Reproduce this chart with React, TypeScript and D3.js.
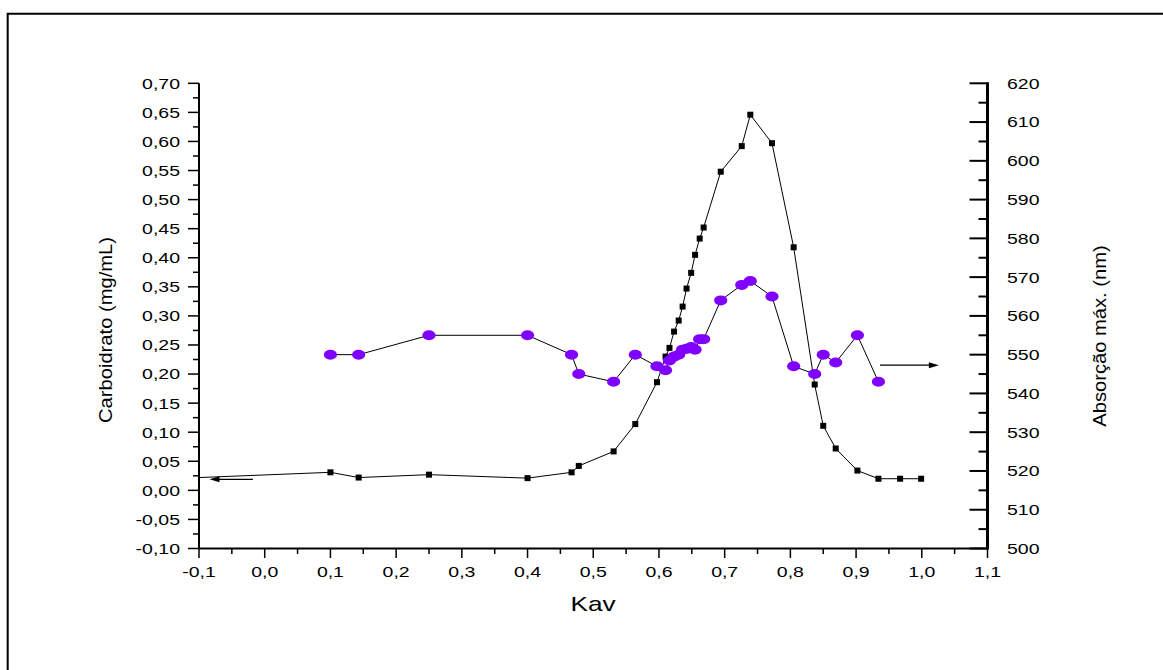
import React from "react";
import * as d3 from "d3";

// ---- data ----
const kavCarb = [0.10, 0.143, 0.25, 0.40, 0.467, 0.478, 0.531, 0.564, 0.597, 0.610, 0.616, 0.623, 0.630, 0.636, 0.642, 0.649, 0.655, 0.662, 0.668, 0.694, 0.726, 0.739, 0.772, 0.805, 0.837, 0.850, 0.869, 0.902, 0.934, 0.967, 0.999];
const carboidrato = [0.031, 0.022, 0.027, 0.021, 0.031, 0.042, 0.067, 0.114, 0.186, 0.230, 0.245, 0.273, 0.292, 0.316, 0.347, 0.374, 0.405, 0.433, 0.452, 0.548, 0.592, 0.646, 0.597, 0.418, 0.182, 0.111, 0.072, 0.034, 0.020, 0.020, 0.020];
// line segment that runs from the left axis to the first point (no marker)
const carbLeadKav = -0.1;
const carbLeadVal = 0.022;

const kavAbs = [0.10, 0.143, 0.25, 0.40, 0.467, 0.478, 0.531, 0.564, 0.597, 0.610, 0.616, 0.623, 0.630, 0.636, 0.642, 0.649, 0.655, 0.662, 0.668, 0.694, 0.726, 0.739, 0.772, 0.805, 0.837, 0.850, 0.869, 0.902, 0.934];
const absorcao = [550, 550, 555, 555, 550, 545, 543, 550, 547, 546, 548.5, 549.5, 550, 551.3, 551.5, 552, 551.3, 554, 554, 564, 568, 569, 565, 547, 545, 550, 548, 555, 543];

const xTicks = [-0.1, 0.0, 0.1, 0.2, 0.3, 0.4, 0.5, 0.6, 0.7, 0.8, 0.9, 1.0, 1.1];
const leftTicks = [-0.10, -0.05, 0.00, 0.05, 0.10, 0.15, 0.20, 0.25, 0.30, 0.35, 0.40, 0.45, 0.50, 0.55, 0.60, 0.65, 0.70];
const rightTicks = [500, 510, 520, 530, 540, 550, 560, 570, 580, 590, 600, 610, 620];

// annotation arrows: [kavFrom, kavTo, value]
const leftArrow = [-0.018, -0.084, 0.019];
const rightArrow = [0.9364, 1.026, 547.3];

const xTitle = "Kav";
const leftTitle = "Carboidrato (mg/mL)";
const rightTitle = "Absorção máx. (nm)";

const loc = d3.formatLocale({ decimal: ",", thousands: ".", grouping: [3], currency: ["", ""], minus: "-" });
const f1 = loc.format(".1f");
const f2 = loc.format(".2f");

export default function App() {
  const x = d3.scaleLinear().domain([-0.1, 1.1]).range([199, 987.5]);
  const yL = d3.scaleLinear().domain([-0.1, 0.7]).range([548.5, 83.3]);
  const yR = d3.scaleLinear().domain([500, 620]).range([548.5, 83.3]);

  const carbPts: [number, number][] = [[carbLeadKav, carbLeadVal], ...kavCarb.map((k, i) => [k, carboidrato[i]] as [number, number])];
  const absPts: [number, number][] = kavAbs.map((k, i) => [k, absorcao[i]]);

  const lineL = d3.line<[number, number]>().x((d) => x(d[0])).y((d) => yL(d[1]));
  const lineR = d3.line<[number, number]>().x((d) => x(d[0])).y((d) => yR(d[1]));

  const font = "'Liberation Sans', Arial, sans-serif";

  // minor ticks
  const leftMinor = d3.range(0, 16).map((i) => -0.075 + i * 0.05);
  const xMinor = d3.range(0, 12).map((i) => -0.05 + i * 0.1);
  const rightMinor = d3.range(0, 12).map((i) => 505 + i * 10);

  const axisY = yL(-0.1);
  const xL = x(-0.1);
  const xRgt = x(1.1);

  const arrowHead = (tipX: number, tipY: number, dir: number) => {
    const len = 10, half = 3;
    return `M${tipX},${tipY} L${tipX - dir * len},${tipY - half} L${tipX - dir * len},${tipY + half} Z`;
  };

  return (
    <svg width={1163} height={670} style={{ position: "absolute", left: 0, top: 0, background: "#fff" }} fontFamily={font}>
      <rect x={0} y={0} width={1163} height={670} fill="#fff" />
      {/* outer frame */}
      <path d="M7.7,670 V13.8 H1163" fill="none" stroke="#000" strokeWidth={2} />

      {/* left axis */}
      <line x1={xL} x2={xL} y1={yL(0.7)} y2={axisY} stroke="#000" strokeWidth={2} />
      {leftTicks.map((t) => (
        <g key={"lt" + t}>
          <line x1={xL - 11} x2={xL} y1={yL(t)} y2={yL(t)} stroke="#000" strokeWidth={1.5} />
          <text transform={`translate(${xL - 19},${yL(t) + 5.4}) scale(1.3,1)`} textAnchor="end" fontSize={15} fill="#000">
            {f2(t)}
          </text>
        </g>
      ))}
      {leftMinor.map((t) => (
        <line key={"lm" + t} x1={xL - 6} x2={xL} y1={yL(t)} y2={yL(t)} stroke="#000" strokeWidth={1.5} />
      ))}

      {/* bottom axis */}
      <line x1={xL} x2={xRgt} y1={axisY} y2={axisY} stroke="#000" strokeWidth={2} />
      {xTicks.map((t) => (
        <g key={"xt" + t}>
          <line x1={x(t)} x2={x(t)} y1={axisY} y2={axisY + 9.5} stroke="#000" strokeWidth={1.5} />
          <text transform={`translate(${x(t)},577) scale(1.3,1)`} textAnchor="middle" fontSize={15} fill="#000">
            {f1(t)}
          </text>
        </g>
      ))}
      {xMinor.map((t) => (
        <line key={"xm" + t} x1={x(t)} x2={x(t)} y1={axisY} y2={axisY + 5.5} stroke="#000" strokeWidth={1.5} />
      ))}

      {/* right axis */}
      <line x1={xRgt} x2={xRgt} y1={yR(620) - 1} y2={axisY + 1} stroke="#000" strokeWidth={3} />
      {rightTicks.map((t) => (
        <g key={"rt" + t}>
          <line x1={xRgt - 18} x2={xRgt} y1={yR(t)} y2={yR(t)} stroke="#000" strokeWidth={2} />
          <text transform={`translate(1007,${yR(t) + 5.4}) scale(1.3,1)`} textAnchor="start" fontSize={15} fill="#000">
            {String(t)}
          </text>
        </g>
      ))}
      {rightMinor.map((t) => (
        <line key={"rm" + t} x1={xRgt - 9} x2={xRgt} y1={yR(t)} y2={yR(t)} stroke="#000" strokeWidth={2} />
      ))}

      {/* titles */}
      <text transform={`translate(593,611) scale(1.25,1)`} textAnchor="middle" fontSize={21} fill="#000">
        {xTitle}
      </text>
      <text transform={`translate(112,330) rotate(-90) scale(1.12,1)`} textAnchor="middle" fontSize={18} fill="#000">
        {leftTitle}
      </text>
      <text transform={`translate(1106,336) rotate(-90) scale(1.12,1)`} textAnchor="middle" fontSize={18} fill="#000">
        {rightTitle}
      </text>

      {/* carboidrato series */}
      <path d={lineL(carbPts) || ""} fill="none" stroke="#000" strokeWidth={1} />
      {kavCarb.map((k, i) => (
        <rect key={"c" + i} x={x(k) - 3} y={yL(carboidrato[i]) - 3} width={6} height={6} fill="#000" />
      ))}

      {/* absorcao series */}
      <path d={lineR(absPts) || ""} fill="none" stroke="#000" strokeWidth={1} />
      {kavAbs.map((k, i) => (
        <ellipse key={"a" + i} cx={x(k)} cy={yR(absorcao[i])} rx={6.6} ry={5} fill="#8000ff" />
      ))}

      {/* arrows */}
      <line x1={x(leftArrow[0])} x2={x(leftArrow[1]) + 8} y1={yL(leftArrow[2])} y2={yL(leftArrow[2])} stroke="#000" strokeWidth={1.2} />
      <path d={arrowHead(x(leftArrow[1]), yL(leftArrow[2]), -1)} fill="#000" />
      <line x1={x(rightArrow[0])} x2={x(rightArrow[1]) - 8} y1={yR(rightArrow[2])} y2={yR(rightArrow[2])} stroke="#000" strokeWidth={1.2} />
      <path d={arrowHead(x(rightArrow[1]), yR(rightArrow[2]), 1)} fill="#000" />
    </svg>
  );
}
